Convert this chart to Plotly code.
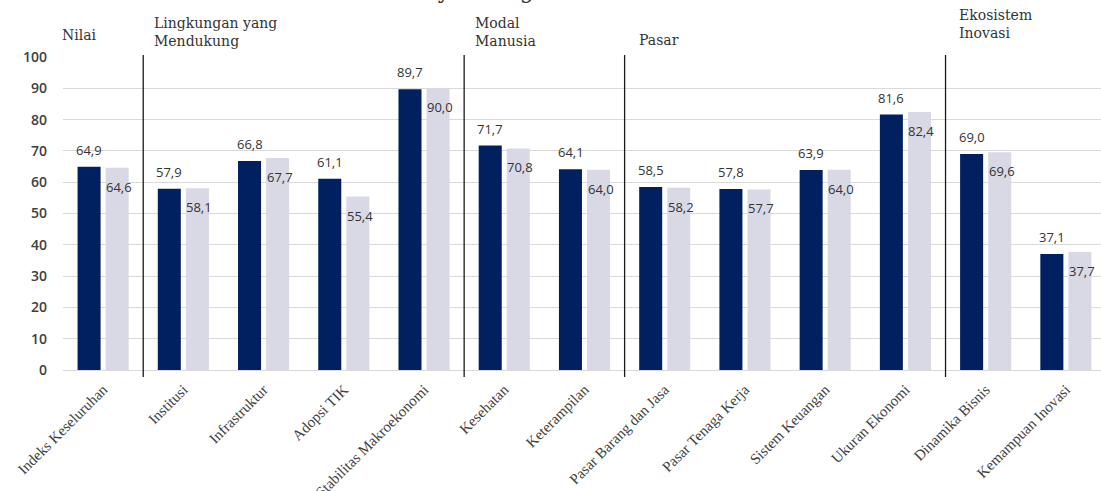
import plotly.graph_objects as go

categories = ["Indeks Keseluruhan", "Institusi", "Infrastruktur", "Adopsi TIK",
              "Stabilitas Makroekonomi", "Kesehatan", "Keterampilan",
              "Pasar Barang dan Jasa", "Pasar Tenaga Kerja", "Sistem Keuangan",
              "Ukuran Ekonomi", "Dinamika Bisnis", "Kemampuan Inovasi"]
series_dark = [64.9, 57.9, 66.8, 61.1, 89.7, 71.7, 64.1, 58.5, 57.8, 63.9, 81.6, 69.0, 37.1]
series_light = [64.6, 58.1, 67.7, 55.4, 90.0, 70.8, 64.0, 58.2, 57.7, 64.0, 82.4, 69.6, 37.7]
series_names = ["Seri 1", "Seri 2"]
y_ticks = [0, 10, 20, 30, 40, 50, 60, 70, 80, 90, 100]

group_labels = ["Nilai", "Lingkungan yang<br>Mendukung", "Modal<br>Manusia", "Pasar", "Ekosistem<br>Inovasi"]
group_starts = [0, 1, 5, 7, 11]

# layout helpers (pixels / styles)
W, H = 1101, 491
ML, MR, MT, MB = 63, 0, 57, 121
PLOT_H = H - MT - MB
header_centers_px = [35, 32, 31.5, 40, 23.5]
header_offsets = [0.0, 0.15, 0.15, 0.19, 0.18]

DARK = "#002060"
LIGHT = "#d9d9e6"
TXT = "#404040"


def fmt(v):
    return f"{v:.1f}".replace(".", ",")


fig = go.Figure()
fig.add_trace(go.Bar(x=categories, y=series_dark, name=series_names[0],
                     marker=dict(color=DARK, line=dict(width=0))))
fig.add_trace(go.Bar(x=categories, y=series_light, name=series_names[1],
                     marker=dict(color=LIGHT, line=dict(width=0))))

annotations = []
for i, (a, b) in enumerate(zip(series_dark, series_light)):
    annotations.append(dict(x=i, y=a, xref="x", yref="y", text=fmt(a), showarrow=False,
                            xshift=-14, yshift=17, yanchor="middle", xanchor="center",
                            font=dict(family="Open Sans", size=13, color="#333333")))
    annotations.append(dict(x=i, y=b, xref="x", yref="y", text=fmt(b), showarrow=False,
                            xshift=16, yshift=-19, yanchor="middle", xanchor="center",
                            font=dict(family="Open Sans", size=13, color="#333333")))

for lab, st, cy, off in zip(group_labels, group_starts, header_centers_px, header_offsets):
    annotations.append(dict(x=st - 0.5 + off, y=(H - MB - cy) / PLOT_H, xref="x", yref="paper",
                            text=lab, showarrow=False, xanchor="left", yanchor="middle",
                            align="left", xshift=-3,
                            font=dict(family="DejaVu Serif", size=14, color="#333333")))

# clipped title (only descenders visible at the top edge)
annotations.append(dict(x=(405 - ML) / (W - ML - MR), y=(H - MB + 9) / PLOT_H, xref="paper", yref="paper",
                        text="Daya Saing", showarrow=False, xanchor="left", yanchor="middle",
                        font=dict(family="DejaVu Serif", size=22, color="#333333")))

shapes = []
for st in group_starts[1:]:
    shapes.append(dict(type="line", xref="x", yref="paper", x0=st - 0.5, x1=st - 0.5,
                       y0=-0.022, y1=1.006, line=dict(color="#1a1a1a", width=1.3)))

fig.update_layout(
    template="none",
    width=W, height=H,
    margin=dict(l=ML, r=MR, t=MT, b=MB, pad=0),
    paper_bgcolor="white", plot_bgcolor="white",
    barmode="group", bargap=0.30, bargroupgap=0.18,
    showlegend=False,
    annotations=annotations,
    shapes=shapes,
    font=dict(family="Open Sans", color=TXT),
)
fig.update_xaxes(
    range=[-0.5, 12.5 - 5 / 80.25], tickangle=-45, automargin=False,
    showgrid=False, showline=False, zeroline=False, ticks="", ticklabelstandoff=7,
    tickfont=dict(family="Liberation Serif", size=15, color=TXT),
)
fig.update_yaxes(
    range=[0, 100], tickvals=y_ticks, automargin=False,
    showgrid=True, gridcolor="#d9d9d9", gridwidth=1,
    zeroline=True, zerolinecolor="#d9d9d9", zerolinewidth=1,
    showline=False, ticks="", ticklabelstandoff=15,
    tickfont=dict(family="Open Sans", size=14, color=TXT, weight=600),
)

fig.write_html("out.html")
